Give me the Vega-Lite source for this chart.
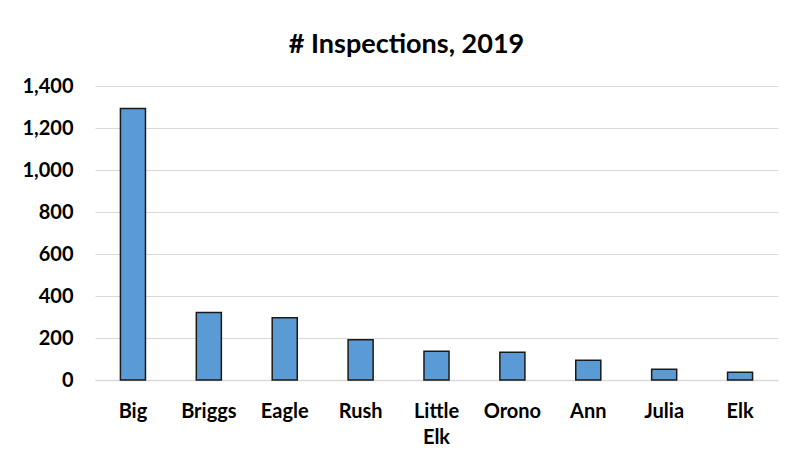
{
  "$schema": "https://vega.github.io/schema/vega-lite/v6.json",
  "width": 683,
  "height": 294,
  "autosize": {"type": "none"},
  "padding": {"left": 95, "top": 86, "right": 23, "bottom": 82},
  "background": "white",
  "title": {
    "text": "# Inspections, 2019",
    "font": "Lato",
    "fontSize": 27,
    "fontWeight": "bold",
    "color": "#000000",
    "anchor": "middle",
    "frame": "group",
    "dx": -30,
    "offset": 17
  },
  "data": {
    "values": [
      {"lake": "Big", "inspections": 1293},
      {"lake": "Briggs", "inspections": 322},
      {"lake": "Eagle", "inspections": 297},
      {"lake": "Rush", "inspections": 192},
      {"lake": "Little Elk", "inspections": 137},
      {"lake": "Orono", "inspections": 132},
      {"lake": "Ann", "inspections": 94},
      {"lake": "Julia", "inspections": 51},
      {"lake": "Elk", "inspections": 37}
    ]
  },
  "mark": {"type": "bar", "color": "#5B9BD5", "stroke": "#1a1a1a", "strokeWidth": 1.5},
  "encoding": {
    "x": {
      "field": "lake",
      "type": "nominal",
      "sort": null,
      "scale": {"paddingInner": 0.67, "paddingOuter": 0.335},
      "axis": {
        "title": null,
        "labelAngle": 0,
        "labelFont": "Lato",
        "labelFontSize": 20,
        "labelFontWeight": "bold",
        "labelColor": "#000000",
        "labelPadding": 21,
        "labelLineHeight": 26,
        "labelExpr": "split(datum.label, ' ')",
        "ticks": false,
        "domain": true,
        "domainColor": "#D9D9D9",
        "domainWidth": 1.5
      }
    },
    "y": {
      "field": "inspections",
      "type": "quantitative",
      "scale": {"domain": [0, 1400], "nice": false},
      "axis": {
        "title": null,
        "values": [0, 200, 400, 600, 800, 1000, 1200, 1400],
        "format": ",.0f",
        "labelFont": "Lato",
        "labelFontSize": 20,
        "labelFontWeight": "bold",
        "labelColor": "#000000",
        "labelPadding": 22,
        "ticks": false,
        "domain": false,
        "grid": true,
        "gridColor": "#D9D9D9",
        "gridWidth": 1.2
      }
    }
  },
  "config": {"view": {"stroke": null}}
}
